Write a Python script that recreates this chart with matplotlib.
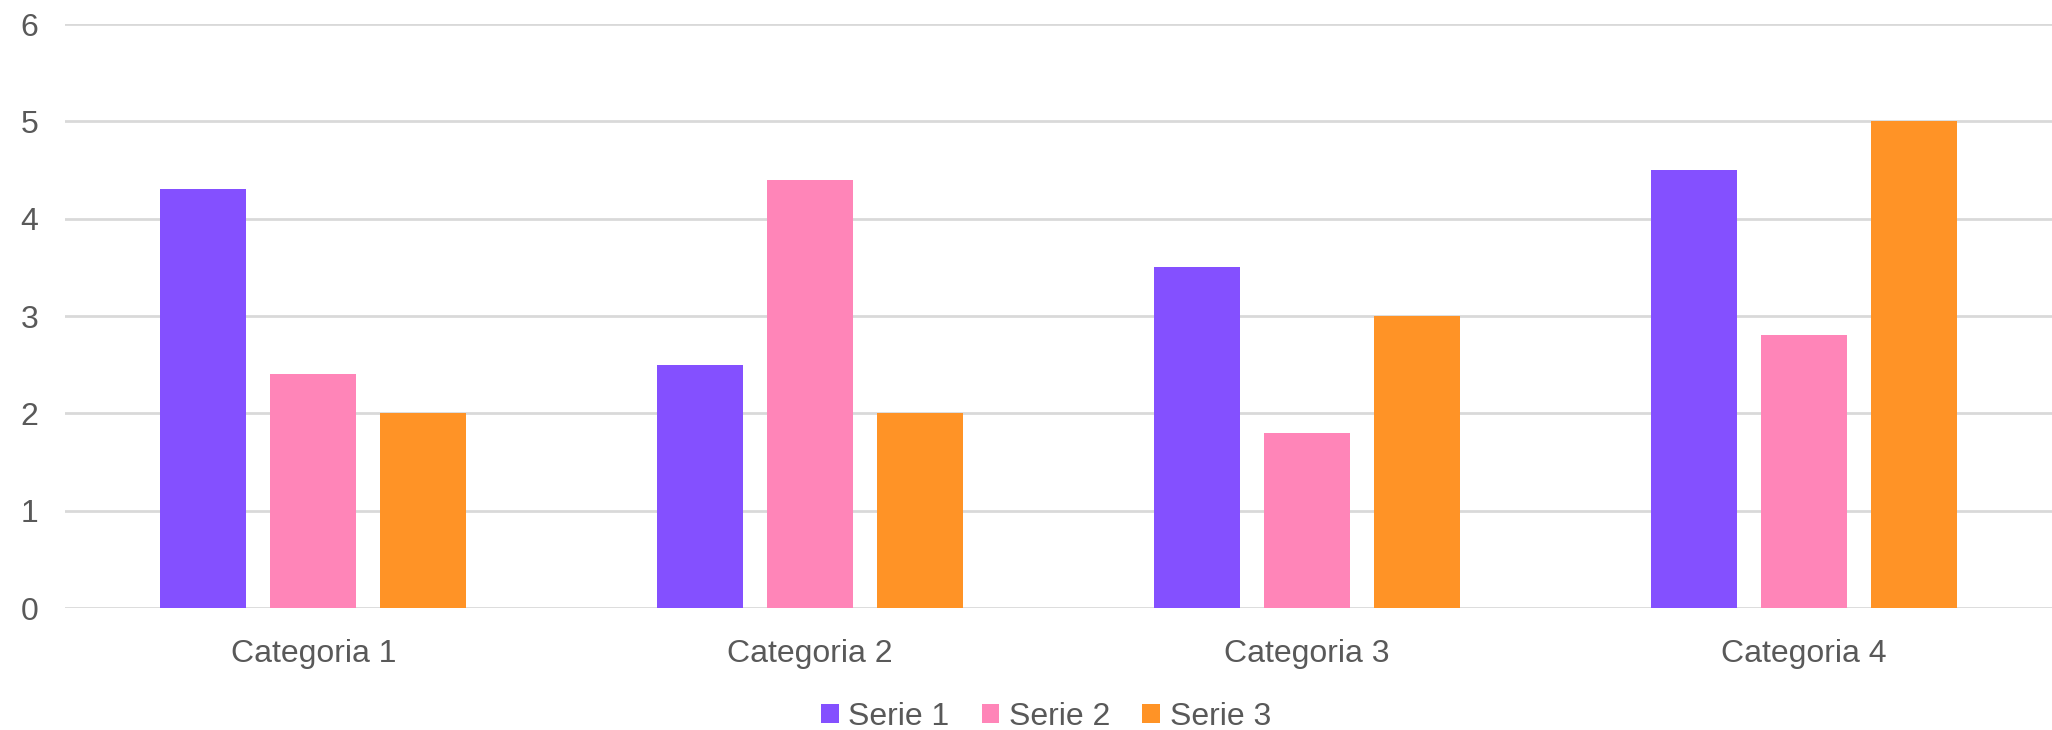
import matplotlib.pyplot as plt
import numpy as np

categories = ['Categoria 1', 'Categoria 2', 'Categoria 3', 'Categoria 4']
series_names = ['Serie 1', 'Serie 2', 'Serie 3']
serie1 = [4.3, 2.5, 3.5, 4.5]
serie2 = [2.4, 4.4, 1.8, 2.8]
serie3 = [2.0, 2.0, 3.0, 5.0]
y_ticks = [0, 1, 2, 3, 4, 5, 6]

colors = ['#8450FF', '#FF85B8', '#FF9326']
text_color = '#595959'

plt.rcParams['font.family'] = ['Liberation Sans', 'DejaVu Sans']

W, H = 2052, 730
fig = plt.figure(figsize=(W / 100, H / 100), dpi=100)
ax = fig.add_axes([65 / W, (H - 608) / H, (W - 65) / W, (608 - 24) / H])

x = np.arange(len(categories))
width = 86 / 497
step = 110 / 497
for i, vals in enumerate([serie1, serie2, serie3]):
    ax.bar(x + (i - 1) * step, vals, width, color=colors[i], label=series_names[i], zorder=3)

ax.set_xlim(-0.5, len(categories) - 0.5)
ax.set_ylim(0, 6)
ax.set_yticks(y_ticks)
ax.set_xticks(x)
ax.set_xticklabels(categories)
ax.grid(axis='y', color='#D9D9D9', linewidth=2, zorder=0)
ax.tick_params(axis='both', length=0, labelsize=23, colors=text_color)
ax.tick_params(axis='y', pad=19)
ax.tick_params(axis='x', pad=22)
for s in ax.spines.values():
    s.set_visible(False)

fig.legend(loc='center', bbox_to_anchor=(1046 / W, 1 - 717 / H), ncol=3, frameon=False,
           fontsize=23, labelcolor=text_color, handlelength=0.56, handleheight=0.56,
           handletextpad=0.3, columnspacing=1.0)

fig.savefig('out.png', dpi=100)
